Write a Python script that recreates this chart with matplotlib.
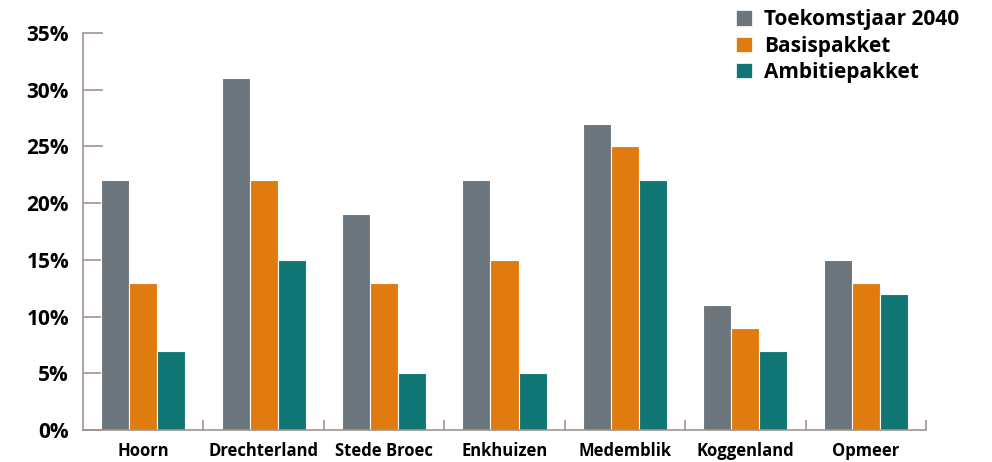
import matplotlib
matplotlib.use("Agg")
import matplotlib.pyplot as plt
import numpy as np
from matplotlib.patches import Patch
from matplotlib.ticker import FixedLocator, FuncFormatter

categories = ["Hoorn", "Drechterland", "Stede Broec", "Enkhuizen", "Medemblik", "Koggenland", "Opmeer"]
series_names = ["Toekomstjaar 2040", "Basispakket", "Ambitiepakket"]
toekomst = [22, 31, 19, 22, 27, 11, 15]
basis = [13, 22, 13, 15, 25, 9, 13]
ambitie = [7, 15, 5, 5, 22, 7, 12]
yticks = [0, 5, 10, 15, 20, 25, 30, 35]

colors = ["#6b757b", "#e07b10", "#107575"]
axis_color = "#a0948f"

plt.rcParams['font.family'] = ['Open Sans', 'DejaVu Sans']
plt.rcParams['font.weight'] = 'bold'

fig = plt.figure(figsize=(9.92, 4.62), dpi=100)
ax = fig.add_axes([83/992, 32/462, (926-83)/992, (430-33)/462])

x = np.arange(len(categories))
w = 0.233
for i, (vals, c) in enumerate(zip([toekomst, basis, ambitie], colors)):
    ax.bar(x + (i - 1) * w, vals, width=w, color=c, edgecolor="white", linewidth=0.8, zorder=2)

ax.set_xlim(-0.5, len(categories) - 0.5)
ax.set_ylim(0, 35)
for s in ["top", "right"]:
    ax.spines[s].set_visible(False)
for s in ["left", "bottom"]:
    ax.spines[s].set_color(axis_color)
    ax.spines[s].set_linewidth(1.2)
    ax.spines[s].set_zorder(3)

ax.set_yticks(yticks)
ax.yaxis.set_major_formatter(FuncFormatter(lambda v, p: f"{int(v)}%"))
ax.tick_params(axis="y", direction="in", length=14.5, width=1.2, color=axis_color,
               labelsize=15, pad=10)
for lab in ax.get_yticklabels():
    lab.set_fontweight("bold")

ax.set_xticks(x)
ax.set_xticklabels(categories, fontsize=12, fontweight="bold")
ax.tick_params(axis="x", which="major", length=0, pad=9)
ax.xaxis.set_minor_locator(FixedLocator(np.arange(0.5, len(categories), 1.0)))
ax.tick_params(axis="x", which="minor", direction="in", length=7, width=1.2, color=axis_color)

handles = [Patch(facecolor=c, edgecolor="white", linewidth=0.5) for c in colors]
fig.legend(handles, series_names, loc="upper left", bbox_to_anchor=(728/992, 1 - 1/462),
           frameon=False, handlelength=0.75, handleheight=0.75,
           handletextpad=0.6, labelspacing=0.25, borderaxespad=0,
           prop={"weight": "bold", "size": 15})

fig.savefig("out.png", dpi=100)
